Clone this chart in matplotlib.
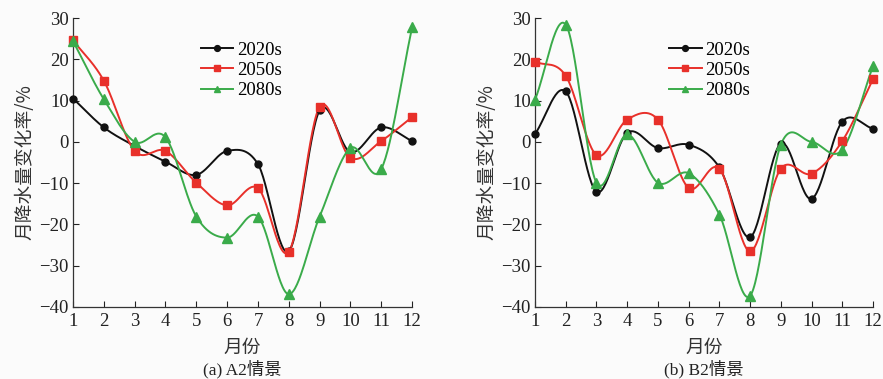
import numpy as np
import matplotlib
matplotlib.use("Agg")
import matplotlib.pyplot as plt

months = [1, 2, 3, 4, 5, 6, 7, 8, 9, 10, 11, 12]
series_names = ["2020s", "2050s", "2080s"]

a2_2020s = [10.5, 3.5, -1.0, -4.8, -8.0, -2.2, -5.4, -26.5, 7.6, -2.5, 3.5, 0.2]
a2_2050s = [24.6, 14.8, -2.2, -2.2, -9.9, -15.4, -11.2, -26.6, 8.5, -3.9, 0.2, 6.0]
a2_2080s = [24.4, 10.3, 0.0, 1.1, -18.1, -23.2, -18.1, -36.9, -18.1, -1.5, -6.6, 27.7]

b2_2020s = [1.9, 12.2, -12.1, 2.2, -1.5, -0.7, -6.2, -23.1, -0.4, -13.8, 4.9, 3.2]
b2_2050s = [19.4, 16.0, -3.2, 5.4, 5.4, -11.2, -6.5, -26.5, -6.5, -7.7, 0.2, 15.2]
b2_2080s = [10.2, 28.4, -9.9, 1.8, -9.9, -7.6, -17.6, -37.3, -0.7, 0.0, -1.9, 18.4]

panel_captions = ["(a) A2情景", "(b) B2情景"]
y_ticks = [-40, -30, -20, -10, 0, 10, 20, 30]

colors = ["#111111", "#e8302a", "#3aab4a"]
markers = ["o", "s", "^"]
msizes = [5, 5.5, 6.5]


def catmull_rom(x, y, n=30):
    x = np.asarray(x, float)
    y = np.asarray(y, float)
    k = len(x)
    m = np.zeros(k)
    m[1:-1] = (y[2:] - y[:-2]) / (x[2:] - x[:-2])
    m[0] = y[1] - y[0]
    m[-1] = y[-1] - y[-2]
    xs_all, ys_all = [], []
    for i in range(k - 1):
        h = x[i + 1] - x[i]
        t = np.linspace(0, 1, n, endpoint=(i == k - 2))
        h00 = 2 * t**3 - 3 * t**2 + 1
        h10 = t**3 - 2 * t**2 + t
        h01 = -2 * t**3 + 3 * t**2
        h11 = t**3 - t**2
        xs_all.append(x[i] + t * h)
        ys_all.append(h00 * y[i] + h10 * h * m[i] + h01 * y[i + 1] + h11 * h * m[i + 1])
    return np.concatenate(xs_all), np.concatenate(ys_all)


plt.rcParams["font.family"] = ["Liberation Serif", "Noto Sans CJK SC"]
fig = plt.figure(figsize=(8.83, 3.79), dpi=100)
bg = "#fbfbfb"
fig.patch.set_facecolor(bg)

axes_pos = [[0.0827, 0.19, 0.384, 0.7625], [0.6059, 0.19, 0.3828, 0.7625]]
legend_x = [0.376, 0.396]
panels = [[a2_2020s, a2_2050s, a2_2080s], [b2_2020s, b2_2050s, b2_2080s]]

for p, (pos, data, cap) in enumerate(zip(axes_pos, panels, panel_captions)):
    ax = fig.add_axes(pos)
    ax.set_facecolor(bg)
    for vals, name, col, mk, ms in zip(data, series_names, colors, markers, msizes):
        xs, ys = catmull_rom(months, vals)
        ax.plot(xs, ys, color=col, lw=1.4, clip_on=False, zorder=2)
        ax.plot(months, vals, linestyle="none", marker=mk, color=col,
                markersize=ms, clip_on=False, zorder=3)
        ax.plot([], [], color=col, lw=1.4, marker=mk, markersize=4.2, label=name)
    ax.set_xlim(1, 12)
    ax.set_ylim(-40, 30)
    ax.set_xticks(months)
    ax.set_yticks(y_ticks)
    ax.set_yticklabels([str(v).replace("-", "\u2212") for v in y_ticks])
    for s in ["top", "right"]:
        ax.spines[s].set_visible(False)
    for s in ["left", "bottom"]:
        ax.spines[s].set_color("#333333")
        ax.spines[s].set_linewidth(0.9)
    ax.tick_params(direction="in", length=4, width=0.8, labelsize=13.5,
                   colors="#222222")
    ax.tick_params(axis="x", pad=4)
    ax.tick_params(axis="y", pad=3)
    ax.set_ylabel("月降水量变化率/%", fontsize=13.5, color="#333333", labelpad=3,
                  family=["Noto Sans CJK SC", "DejaVu Sans"])
    ax.set_xlabel("月份", fontsize=13.5, color="#333333", labelpad=5,
                  family=["Noto Sans CJK SC", "DejaVu Sans"])
    ax.text(0.5, -0.216, cap, transform=ax.transAxes, ha="center", va="center",
            fontsize=12.5, color="#222222",
            family=["Liberation Serif", "Noto Sans CJK SC"])
    ax.legend(loc="upper left", bbox_to_anchor=(legend_x[p], 0.918), frameon=False,
              fontsize=13.5, handlelength=1.75, handletextpad=0.2,
              labelspacing=0.16, borderpad=0.0, borderaxespad=0.0)

fig.savefig("out.png", dpi=100, facecolor=fig.get_facecolor())
